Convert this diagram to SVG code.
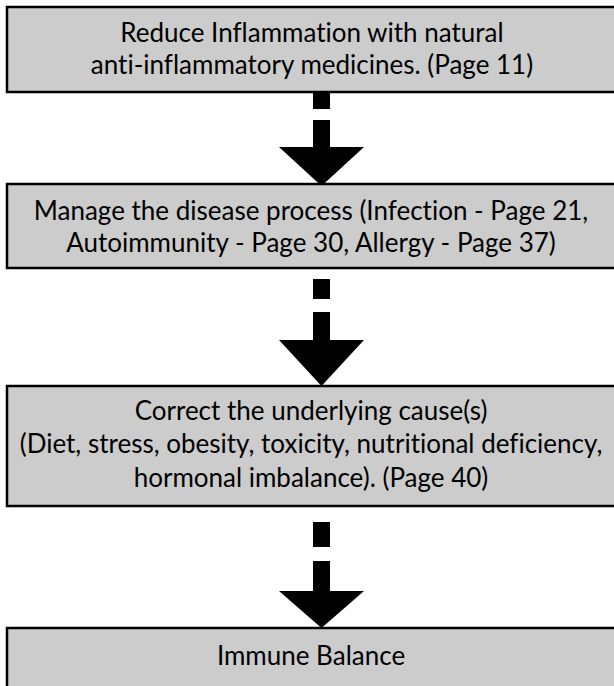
<svg xmlns="http://www.w3.org/2000/svg" width="614" height="686" viewBox="0 0 614 686">
<style>
.box{fill:#cccccc;stroke:#000000;stroke-width:2.5}
.t{font-family:Lato,"Open Sans",sans-serif;font-size:26px;fill:#000000;text-anchor:middle;font-variant-ligatures:none}
.a{fill:#000000}
</style>
<rect width="614" height="686" fill="#ffffff"/>
<g id="connectors">
<g id="arrow1">
<rect class="a" x="313" y="88" width="17" height="21"/>
<rect class="a" x="313" y="120" width="17" height="28"/>
<polygon class="a" points="279,147 364,147 321.5,186"/>
</g>
<g id="arrow2">
<rect class="a" x="313" y="279" width="17" height="20"/>
<rect class="a" x="313" y="312" width="17" height="29"/>
<polygon class="a" points="279,340 364,340 321.5,386"/>
</g>
<g id="arrow3">
<rect class="a" x="313" y="522" width="17" height="25"/>
<rect class="a" x="313" y="561" width="17" height="31"/>
<polygon class="a" points="279,591 364,591 321.5,628"/>
</g>
</g>
<g id="node1">
<rect class="box" x="7" y="7" width="620" height="85"/>
<text class="t" x="312" y="42">Reduce Inflammation with natural</text>
<text class="t" x="312" y="74">anti-inflammatory medicines. (Page 11)</text>
</g>
<g id="node2">
<rect class="box" x="7" y="184" width="620" height="84"/>
<text class="t" x="311" y="220">Manage the disease process (Infection - Page 21,</text>
<text class="t" x="311" y="252">Autoimmunity - Page 30, Allergy - Page 37)</text>
</g>
<g id="node3">
<rect class="box" x="7" y="386" width="620" height="120"/>
<text class="t" x="311" y="420">Correct the underlying cause(s)</text>
<text class="t" x="311" y="453">(Diet, stress, obesity, toxicity, nutritional deficiency,</text>
<text class="t" x="311" y="487">hormonal imbalance). (Page 40)</text>
</g>
<g id="node4">
<rect class="box" x="7" y="628" width="620" height="80"/>
<text class="t" x="311" y="665">Immune Balance</text>
</g>
</svg>
